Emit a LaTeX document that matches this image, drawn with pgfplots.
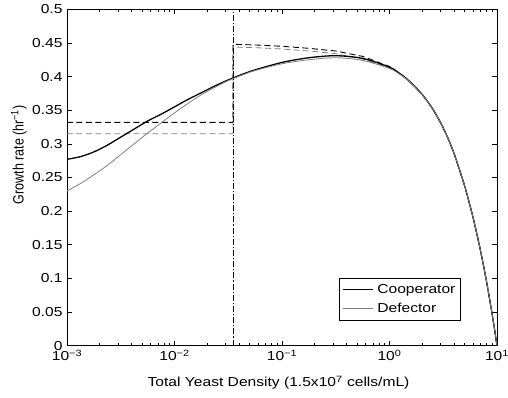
\documentclass[border=0pt]{standalone}
\usepackage{graphicx}
\usepackage{pgfplots}
\pgfplotsset{compat=1.18}
\usepackage{fontspec}
\setmainfont{Liberation Sans}[FakeStretch=1.2]
\newfontfamily\ylfont{Liberation Sans}
\newcommand{\fs}{\fontsize{13bp}{15bp}\selectfont}
\definecolor{defgray}{gray}{0.5}
\begin{document}
\fs
\begin{tikzpicture}[font=\fs]
\begin{axis}[
  name=ax, scale only axis, width=430bp, height=336.4bp,
  xmode=log, xmin=1e-3, xmax=10, ymin=0, ymax=0.5,
  /pgf/number format/assume math mode=true,
  axis line style={line width=0.7pt},
  every tick/.style={black, line width=0.6pt},
  major tick length=5bp, minor tick length=3bp,
  xtick={1e-3,1e-2,1e-1,1,10},
  xticklabels={\mbox{\fs 10\textsuperscript{−3}},\mbox{\fs 10\textsuperscript{−2}},\mbox{\fs 10\textsuperscript{−1}},\mbox{\fs 10\textsuperscript{0}},\mbox{\fs 10\textsuperscript{1}}},
  ytick={0,0.05,0.1,0.15,0.2,0.25,0.3,0.35,0.4,0.45,0.5},
  scaled y ticks=false,
  yticklabel={\mbox{\fs\pgfmathprintnumber[fixed,precision=2,assume math mode=true]{\tick}}},
  xlabel={Total Yeast Density (1.5x10\textsuperscript{7} cells/mL)},
  ylabel={\ylfont\fontsize{12.5bp}{15bp}\selectfont\scalebox{1}[1.2]{Growth rate (hr\textsuperscript{−1})}},
  xlabel style={font=\fs, at={(axis description cs:0.492,0)}, yshift=-37bp, anchor=center},
  ylabel style={at={(axis description cs:-0.1116,0.567)}, anchor=center},
  legend style={at={(rel axis cs:0.9156,0.0743)}, anchor=south east, draw=black, line width=0.6pt, fill=white, font=\fs, inner xsep=3bp, inner ysep=4bp, row sep=4bp},
  legend cell align=left,
  legend image code/.code={\draw[#1] (0bp,0bp) -- (30bp,0bp); \path (32bp,0bp);},
]
% dashed curves (defector, cooperator)
\addplot[defgray, line width=0.8pt, dash pattern=on 6bp off 3.5bp, forget plot] coordinates {
 (0.001,0.315) (0.035,0.315) (0.035,0.444) (0.05623,0.443) (0.1,0.441) (0.1778,0.438)
 (0.3162,0.434) (0.5623,0.426) (1,0.413) (1.25,0.4043) (1.5,0.3944) (2,0.374) (2.5,0.3529) (3,0.331)
 (3.5,0.3084) (4,0.285) (5,0.2375) (6,0.19) (7,0.1425) (8,0.095) (9,0.0475) (9.5,0.02375) (10,0)};
\addplot[black, line width=0.9pt, dash pattern=on 6bp off 3.5bp, forget plot] coordinates {
 (0.001,0.332) (0.035,0.332) (0.035,0.448) (0.05623,0.447) (0.1,0.445) (0.1778,0.442)
 (0.3162,0.438) (0.5623,0.430) (1,0.415) (1.25,0.4043) (1.5,0.3944) (2,0.374) (2.5,0.3529) (3,0.331)
 (3.5,0.3084) (4,0.285) (5,0.2375) (6,0.19) (7,0.1425) (8,0.095) (9,0.0475) (9.5,0.02375) (10,0)};
% vertical dash-dot line
\addplot[black, line width=0.7pt, dash pattern=on 6bp off 2bp on 1.2bp off 2bp, forget plot] coordinates {(0.035,0) (0.035,0.5)};
% solid curves
\addplot[black, line width=1.3pt, smooth, tension=0.5] coordinates {
 (0.001,0.277) (0.0013335,0.281) (0.0017783,0.288) (0.0023714,0.298) (0.0031623,0.310)
 (0.004217,0.322) (0.0056234,0.334) (0.0074989,0.344) (0.01,0.355) (0.0133352,0.366)
 (0.0177828,0.376) (0.0237137,0.386) (0.0316228,0.395) (0.0421697,0.403) (0.0562341,0.410)
 (0.1,0.421) (0.1778,0.428) (0.3162,0.431) (0.5623,0.427) (1,0.414) (1.25,0.4043)
 (1.5,0.3944) (2,0.374) (2.5,0.3529) (3,0.331) (3.5,0.3084) (4,0.285) (5,0.2375) (6,0.19)
 (7,0.1425) (8,0.095) (9,0.0475) (9.5,0.02375) (10,0)};
\addlegendentry{Cooperator}
\addplot[defgray, line width=0.8pt, smooth, tension=0.5] coordinates {
 (0.001,0.230) (0.0013335,0.241) (0.0017783,0.254) (0.0023714,0.268) (0.0031623,0.284)
 (0.004217,0.300) (0.0056234,0.316) (0.0074989,0.331) (0.01,0.346) (0.0133352,0.360)
 (0.0177828,0.373) (0.0237137,0.384) (0.0316228,0.394) (0.0421697,0.402) (0.0562341,0.409)
 (0.1,0.419) (0.1778,0.425) (0.3162,0.428) (0.5623,0.424) (1,0.412) (1.25,0.4033)
 (1.5,0.3938) (2,0.3735) (2.5,0.3527) (3,0.331) (3.5,0.3084) (4,0.285) (5,0.2375) (6,0.19)
 (7,0.1425) (8,0.095) (9,0.0475) (9.5,0.02375) (10,0)};
\addlegendentry{Defector}
\end{axis}
\pgfresetboundingbox
\path ([shift={(-67bp,-52.3bp)}]ax.south west) rectangle ([shift={(11bp,9.3bp)}]ax.north east);
\end{tikzpicture}
\end{document}
